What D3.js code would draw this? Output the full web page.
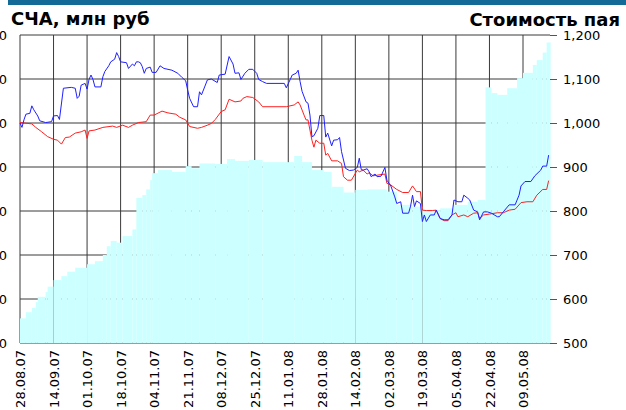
<!DOCTYPE html>
<html>
<head>
<meta charset="utf-8">
<script src="https://cdn.jsdelivr.net/npm/d3@7/dist/d3.min.js"></script>
<style>
  html, body { margin: 0; padding: 0; background: #fff; }
  svg { display: block; }
</style>
</head>
<body>
<svg id="chart" width="626" height="410"></svg>
<script>
// СЧА, млн руб (bars, left axis)
const navBars = [
    ["28.08.07", 56], ["31.08.07", 70], ["03.09.07", 80], ["05.09.07", 93], ["06.09.07", 105],
    ["10.09.07", 116], ["11.09.07", 128], ["14.09.07", 143], ["18.09.07", 152], ["21.09.07", 162],
    ["25.09.07", 171], ["01.10.07", 179], ["05.10.07", 186], ["09.10.07", 200], ["11.10.07", 220],
    ["13.10.07", 232], ["16.10.07", 228], ["19.10.07", 243], ["24.10.07", 258], ["26.10.07", 330],
    ["29.10.07", 336], ["31.10.07", 349], ["02.11.07", 370], ["03.11.07", 386], ["06.11.07", 393],
    ["13.11.07", 389], ["20.11.07", 402], ["23.11.07", 397], ["27.11.07", 408], ["05.12.07", 407],
    ["11.12.07", 418], ["15.12.07", 414], ["22.12.07", 416], ["29.12.07", 411], ["14.01.08", 425],
    ["18.01.08", 411], ["23.01.08", 393], ["29.01.08", 389], ["02.02.08", 355], ["08.02.08", 342],
    ["14.02.08", 348], ["20.02.08", 349], ["01.03.08", 344], ["06.03.08", 314], ["14.03.08", 310],
    ["19.03.08", 302], ["28.03.08", 306], ["04.04.08", 314], ["11.04.08", 321], ["16.04.08", 325],
    ["20.04.08", 581], ["23.04.08", 568], ["26.04.08", 564], ["01.05.08", 579], ["06.05.08", 602],
    ["09.05.08", 614], ["14.05.08", 632], ["16.05.08", 643], ["19.05.08", 660], ["21.05.08", 683]
];
const barsEnd = "23.05.08";

// Стоимость пая (blue line, right axis)
const unitPrice = [
    ["28.08.07", 1000], ["29.08.07", 990], ["30.08.07", 1007], ["31.08.07", 1020], ["02.09.07", 1022],
    ["03.09.07", 1039], ["04.09.07", 1030], ["06.09.07", 1016], ["07.09.07", 1005], ["10.09.07", 1001],
    ["13.09.07", 1003], ["14.09.07", 1016], ["16.09.07", 1017], ["17.09.07", 1008], ["19.09.07", 1079],
    ["23.09.07", 1081], ["25.09.07", 1079], ["26.09.07", 1056], ["27.09.07", 1061], ["28.09.07", 1086],
    ["30.09.07", 1090], ["01.10.07", 1077], ["02.10.07", 1099], ["03.10.07", 1109], ["04.10.07", 1099],
    ["05.10.07", 1082], ["08.10.07", 1082], ["09.10.07", 1105], ["10.10.07", 1117], ["12.10.07", 1130],
    ["13.10.07", 1139], ["15.10.07", 1145], ["16.10.07", 1160], ["17.10.07", 1151], ["18.10.07", 1139],
    ["21.10.07", 1137], ["22.10.07", 1124], ["24.10.07", 1134], ["25.10.07", 1130], ["26.10.07", 1139],
    ["27.10.07", 1139], ["28.10.07", 1137], ["29.10.07", 1128], ["30.10.07", 1113], ["31.10.07", 1124],
    ["02.11.07", 1127], ["03.11.07", 1115], ["05.11.07", 1115], ["07.11.07", 1130], ["09.11.07", 1124],
    ["13.11.07", 1120], ["16.11.07", 1113], ["18.11.07", 1104], ["20.11.07", 1096], ["21.11.07", 1075],
    ["22.11.07", 1056], ["24.11.07", 1037], ["26.11.07", 1037], ["27.11.07", 1071], ["28.11.07", 1064],
    ["29.11.07", 1075], ["01.12.07", 1098], ["03.12.07", 1100], ["06.12.07", 1092], ["07.12.07", 1109],
    ["10.12.07", 1111], ["12.12.07", 1151], ["14.12.07", 1134], ["15.12.07", 1113], ["17.12.07", 1114],
    ["18.12.07", 1099], ["20.12.07", 1113], ["22.12.07", 1122], ["24.12.07", 1122], ["26.12.07", 1113],
    ["27.12.07", 1099], ["29.12.07", 1094], ["31.12.07", 1090], ["09.01.08", 1090], ["10.01.08", 1080],
    ["12.01.08", 1099], ["13.01.08", 1109], ["15.01.08", 1113], ["16.01.08", 1120], ["17.01.08", 1094],
    ["18.01.08", 1072], ["20.01.08", 1048], ["21.01.08", 1045], ["22.01.08", 1018], ["23.01.08", 969],
    ["24.01.08", 971], ["26.01.08", 988], ["27.01.08", 1017], ["29.01.08", 1017], ["30.01.08", 968],
    ["31.01.08", 977], ["02.02.08", 948], ["03.02.08", 961], ["05.02.08", 962], ["06.02.08", 967],
    ["07.02.08", 935], ["09.02.08", 897], ["11.02.08", 892], ["13.02.08", 893], ["15.02.08", 899],
    ["16.02.08", 920], ["17.02.08", 894], ["18.02.08", 893], ["20.02.08", 896], ["21.02.08", 889],
    ["22.02.08", 878], ["24.02.08", 884], ["25.02.08", 878], ["27.02.08", 879], ["29.02.08", 899],
    ["01.03.08", 870], ["03.03.08", 857], ["05.03.08", 832], ["06.03.08", 817], ["08.03.08", 821],
    ["09.03.08", 795], ["12.03.08", 795], ["13.03.08", 811], ["14.03.08", 836], ["15.03.08", 810],
    ["16.03.08", 823], ["18.03.08", 817], ["19.03.08", 776], ["20.03.08", 791], ["21.03.08", 776],
    ["23.03.08", 791], ["25.03.08", 791], ["26.03.08", 802], ["28.03.08", 783], ["30.03.08", 780],
    ["01.04.08", 780], ["03.04.08", 791], ["04.04.08", 825], ["06.04.08", 821], ["08.04.08", 821],
    ["09.04.08", 836], ["11.04.08", 829], ["12.04.08", 825], ["14.04.08", 802], ["16.04.08", 798],
    ["17.04.08", 780], ["19.04.08", 798], ["21.04.08", 798], ["23.04.08", 795], ["26.04.08", 787],
    ["27.04.08", 787], ["29.04.08", 798], ["02.05.08", 814], ["05.05.08", 814], ["07.05.08", 836],
    ["08.05.08", 857], ["10.05.08", 867], ["13.05.08", 867], ["15.05.08", 880], ["18.05.08", 893],
    ["19.05.08", 902], ["21.05.08", 902], ["22.05.08", 927]
];

// benchmark (red line, right axis)
const benchmark = [
    ["28.08.07", 1001], ["03.09.07", 998], ["05.09.07", 990], ["08.09.07", 980], ["11.09.07", 969],
    ["14.09.07", 963], ["16.09.07", 961], ["18.09.07", 952], ["20.09.07", 967], ["22.09.07", 968],
    ["25.09.07", 977], ["28.09.07", 980], ["30.09.07", 984], ["01.10.07", 965], ["02.10.07", 982],
    ["05.10.07", 984], ["09.10.07", 990], ["14.10.07", 993], ["16.10.07", 990], ["19.10.07", 995],
    ["22.10.07", 990], ["24.10.07", 995], ["27.10.07", 1001], ["31.10.07", 1003], ["02.11.07", 1018],
    ["04.11.07", 1018], ["08.11.07", 1027], ["11.11.07", 1023], ["15.11.07", 1020], ["17.11.07", 1013],
    ["20.11.07", 1007], ["22.11.07", 992], ["26.11.07", 988], ["28.11.07", 990], ["01.12.07", 995],
    ["03.12.07", 999], ["05.12.07", 1008], ["08.12.07", 1026], ["10.12.07", 1030], ["12.12.07", 1054],
    ["15.12.07", 1048], ["18.12.07", 1050], ["19.12.07", 1056], ["21.12.07", 1060], ["24.12.07", 1058],
    ["27.12.07", 1048], ["29.12.07", 1037], ["10.01.08", 1037], ["14.01.08", 1041], ["16.01.08", 1048],
    ["17.01.08", 1041], ["19.01.08", 1018], ["20.01.08", 1007], ["21.01.08", 1007], ["23.01.08", 961],
    ["24.01.08", 945], ["25.01.08", 961], ["27.01.08", 954], ["29.01.08", 954], ["30.01.08", 927],
    ["31.01.08", 931], ["02.02.08", 914], ["05.02.08", 914], ["07.02.08", 908], ["08.02.08", 878],
    ["10.02.08", 870], ["12.02.08", 870], ["15.02.08", 893], ["16.02.08", 889], ["18.02.08", 893],
    ["20.02.08", 884], ["21.02.08", 887], ["23.02.08", 880], ["26.02.08", 882], ["29.02.08", 884],
    ["01.03.08", 863], ["03.03.08", 859], ["06.03.08", 849], ["09.03.08", 842], ["12.03.08", 842],
    ["14.03.08", 857], ["16.03.08", 844], ["18.03.08", 844], ["19.03.08", 802], ["21.03.08", 801],
    ["24.03.08", 801], ["26.03.08", 802], ["28.03.08", 783], ["30.03.08", 778], ["01.04.08", 778],
    ["03.04.08", 791], ["05.04.08", 796], ["06.04.08", 787], ["09.04.08", 791], ["11.04.08", 787],
    ["14.04.08", 795], ["16.04.08", 796], ["17.04.08", 783], ["19.04.08", 791], ["22.04.08", 793],
    ["26.04.08", 796], ["29.04.08", 796], ["02.05.08", 802], ["05.05.08", 804], ["08.05.08", 819],
    ["11.05.08", 821], ["14.05.08", 821], ["16.05.08", 836], ["19.05.08", 849], ["21.05.08", 849],
    ["22.05.08", 869]
];

const dateTicks = ["28.08.07", "14.09.07", "01.10.07", "18.10.07", "04.11.07", "21.11.07",
    "08.12.07", "25.12.07", "11.01.08", "28.01.08", "14.02.08", "02.03.08",
    "19.03.08", "05.04.08", "22.04.08", "09.05.08"];
const leftTicks = [0, 100, 200, 300, 400, 500, 600, 700];
const rightTicks = [500, 600, 700, 800, 900, 1000, 1100, 1200];

const parse = d3.utcParse("%d.%m.%y");
const svg = d3.select("#chart");

const plotLeft = 20, plotRight = 550, plotTop = 35, plotBottom = 343;

let x = d3.scaleUtc()
    .domain([parse(dateTicks[0]), parse(dateTicks[dateTicks.length - 1])])
    .range([plotLeft, 523]);
let yLeft = d3.scaleLinear().domain([0, 700]).range([plotBottom, plotTop]);
let yRight = d3.scaleLinear().domain([500, 1200]).range([plotBottom, plotTop]);

// header stripe and titles
svg.append('rect')
    .attr('x', 8).attr('y', 0)
    .attr('width', 618).attr('height', 5)
    .attr('fill', '#136a96');

svg.append('text')
    .attr('x', 11).attr('y', 25)
    .style('font', 'bold 18px "DejaVu Sans"')
    .text('СЧА, млн руб');

svg.append('text')
    .attr('x', 620).attr('y', 26)
    .attr('text-anchor', 'end')
    .style('font', 'bold 18px "DejaVu Sans"')
    .text('Стоимость пая');

// grid
let grid = svg.append('g').attr('stroke', '#3a3a3a').attr('stroke-width', 1);
grid.selectAll('.hgrid').data(rightTicks).enter()
    .append('line')
    .attr('x1', plotLeft).attr('x2', plotRight)
    .attr('y1', d => yRight(d)).attr('y2', d => yRight(d));
grid.selectAll('.vgrid').data(dateTicks).enter()
    .append('line')
    .attr('x1', d => x(parse(d))).attr('x2', d => x(parse(d)))
    .attr('y1', plotTop).attr('y2', plotBottom);

// bars
let bars = navBars.map((d, i) => ({
    start: parse(d[0]),
    end: parse(i < navBars.length - 1 ? navBars[i + 1][0] : barsEnd),
    val: d[1]
}));
svg.append('g').selectAll('rect').data(bars).enter()
    .append('rect')
    .attr('x', d => x(d.start))
    .attr('width', d => x(d.end) - x(d.start))
    .attr('y', d => yLeft(d.val))
    .attr('height', d => plotBottom - yLeft(d.val))
    .attr('fill', '#ccffff');

// lines
let line = d3.line()
    .x(d => x(parse(d[0])))
    .y(d => yRight(d[1]));

svg.append('path')
    .datum(benchmark)
    .attr('d', line)
    .attr('fill', 'none')
    .attr('stroke', '#ff2020')
    .attr('stroke-width', 1);

svg.append('path')
    .datum(unitPrice)
    .attr('d', line)
    .attr('fill', 'none')
    .attr('stroke', '#2020ff')
    .attr('stroke-width', 1);

// axes
let rightAxis = svg.append('g')
    .attr('transform', `translate(${plotRight},0)`)
    .call(d3.axisRight(yRight).tickValues(rightTicks).tickSize(7).tickPadding(6).tickFormat(d3.format(',')));
rightAxis.select('.domain').remove();
rightAxis.selectAll('line').attr('stroke', '#555');
rightAxis.selectAll('text')
    .style('font', '13px "DejaVu Sans"')
    .attr('fill', '#000');

let leftAxis = svg.append('g')
    .attr('transform', `translate(${plotLeft},0)`)
    .call(d3.axisLeft(yLeft).tickValues(leftTicks).tickSize(0).tickPadding(13));
leftAxis.select('.domain').remove();
leftAxis.selectAll('text')
    .style('font', '13px "DejaVu Sans"')
    .attr('fill', '#000');

let bottomAxis = svg.append('g')
    .attr('transform', `translate(0,${plotBottom})`)
    .call(d3.axisBottom(x).tickValues(dateTicks.map(parse)).tickSize(0).tickFormat(d3.utcFormat('%d.%m.%y')));
bottomAxis.select('.domain').remove();
bottomAxis.selectAll('text')
    .attr('transform', 'rotate(-90)')
    .attr('x', -7)
    .attr('y', 0)
    .attr('dy', '0.35em')
    .style('text-anchor', 'end')
    .style('font', '13px "DejaVu Sans"')
    .attr('fill', '#000');
</script>
</body>
</html>
